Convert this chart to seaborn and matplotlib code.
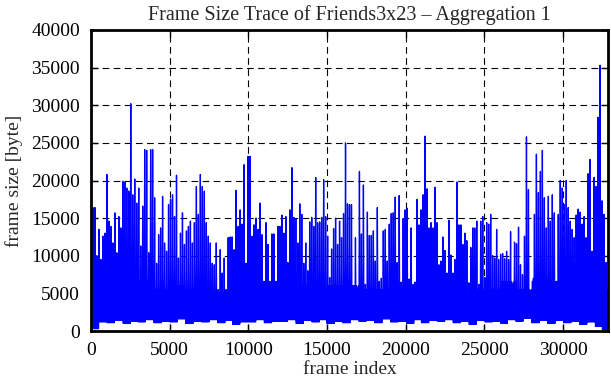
import numpy as np
import pandas as pd
import matplotlib
matplotlib.use("Agg")
import matplotlib.pyplot as plt
import seaborn as sns

# ---- data (frame sizes in bytes) ----
N_FRAMES = 32850

# per-column peak frame sizes, frames ~0 .. 8200
peak_a = [15500, 16400, 16400, 10000, 13500, 9500, 12600, 13000, 20800, 14600,
          13900, 11700, 15700, 10400, 15200, 13700, 19900, 19800, 19000, 18600,
          30200, 18100, 20200, 17000, 19000, 11300, 16600, 24100, 24000, 10400,
          24100, 24100, 17700, 9000, 12800, 13700, 17900, 11700, 10600, 16800,
          17500, 18100, 15200, 20700, 9700, 13000, 15700, 11500, 13300, 13900,
          14600, 11700, 14400, 19200, 15500, 20800, 19200, 18600, 14400, 12600,
          11700, 9000, 8800, 11700, 5500]
# frames ~8200 .. 16400
peak_b = [10800, 7700, 9700, 5500, 12400, 12500, 12500, 10800, 18700, 13900,
          16100, 14200, 22100, 9000, 23200, 23200, 12600, 14100, 15000, 13500,
          17000, 12800, 6600, 14400, 11500, 6600, 12900, 12900, 6600, 13900,
          13900, 15400, 13000, 15200, 9100, 16100, 21700, 15100, 14900, 11700,
          16900, 15500, 9000, 11700, 8000, 14500, 15100, 13900, 20400, 14400,
          14500, 15100, 20100, 15200, 12600, 7100, 10900, 13600, 15000, 11500,
          14600, 12400, 15600, 25000, 16900]
# frames ~16400 .. 24600
peak_c = [16800, 16800, 6000, 12400, 5700, 21200, 12900, 19400, 6200, 15800,
          12700, 12700, 13300, 9300, 16400, 6600, 7000, 13300, 13500, 9300,
          14200, 15600, 15700, 17800, 9100, 18000, 6500, 14900, 16100, 16300,
          6900, 13700, 6200, 6500, 17500, 14100, 16100, 18100, 25900, 18900,
          13700, 14400, 13700, 19100, 14400, 8800, 9300, 12500, 10700, 7700,
          14700, 10100, 7700, 9500, 19800, 14100, 14100, 11500, 13000, 12000,
          6400, 11100, 13700, 13700, 14600]
# frames ~24600 .. 32850
peak_d = [6200, 14600, 15200, 7100, 14400, 14200, 15500, 10000, 9700, 13500,
          9500, 10200, 10300, 9600, 10600, 9500, 13200, 6200, 11800, 11600,
          13800, 8800, 7500, 12600, 25800, 18800, 5300, 6600, 15500, 23500,
          18400, 21200, 24000, 17700, 13700, 17900, 14600, 18100, 15700, 6600,
          15500, 20000, 19000, 16800, 20000, 16400, 14600, 13500, 12400, 15400,
          16200, 15800, 14200, 15200, 12400, 20900, 22800, 10600, 20400, 19200,
          28400, 35300, 17300, 15500, 9100]

# top of the dense band, one value per 1000 frames
band = [6500, 6000, 7000, 6500, 5500, 6000, 5500, 5000,
        5000, 6000, 5500, 5500, 5500, 6000, 5500, 6000,
        6000, 5500, 5500, 5500, 6000, 5500, 5000, 5000,
        5500, 5500, 6500, 5500, 7000, 6500, 6500, 7000, 5500]

# lower envelope, one value per 500 frames
trough = [300, 1200, 1100, 1400, 1000, 1300, 1200, 1500, 1100, 1300,
          1200, 1600, 1000, 1300, 1200, 1500, 1100, 1400, 900, 1200,
          1200, 1500, 1100, 1300, 1300, 1500, 1000, 1400, 1200, 1500,
          1000, 1300, 1100, 1500, 1300, 1400, 1100, 1600, 1200, 1300,
          1000, 1500, 1100, 1400, 1300, 1500, 1100, 1300, 900, 1400,
          1200, 1300, 1000, 1500, 1300, 1700, 1100, 1400, 1000, 1400,
          1100, 1300, 900, 1200, 600, 200]

title = "Frame Size Trace of Friends3x23 \u2013 Aggregation 1"
x_label = "frame index"
y_label = "frame size [byte]"
x_ticks = [0, 5000, 10000, 15000, 20000, 25000, 30000]
y_ticks = [0, 5000, 10000, 15000, 20000, 25000, 30000, 35000, 40000]

# ---- build the trace: peak / trough / band / trough per column ----
peaks = peak_a + peak_b + peak_c + peak_d
step = N_FRAMES / len(peaks)


def low(f):
    return trough[min(int(f // 500), len(trough) - 1)]


def mid(f):
    return band[min(int(f // 1000), len(band) - 1)]


frames, sizes = [], []
for i, p in enumerate(peaks):
    f0 = i * step
    fa, fb, fc = f0 + step / 4, f0 + step / 2, f0 + 3 * step / 4
    frames += [f0, fa, fb, fc]
    sizes += [p, low(fa), mid(fb), low(fc)]
df = pd.DataFrame({"frame": frames, "size": sizes})

# ---- style ----
sns.set_style("ticks")
plt.rcParams["font.family"] = ["Liberation Serif", "DejaVu Serif"]

fig = plt.figure(figsize=(6.11, 3.80), dpi=100)
ax = fig.add_axes([91 / 611, 1 - 331 / 380, (608 - 91) / 611, (331 - 30) / 380])

sns.lineplot(data=df, x="frame", y="size", ax=ax, color="#0000ff",
             linewidth=0.95, estimator=None, sort=False, zorder=2)

ax.set_xlim(0, N_FRAMES)
ax.set_ylim(0, 40000)
ax.set_xticks(x_ticks)
ax.set_yticks(y_ticks)
ax.set_xticklabels([str(t) for t in x_ticks])
ax.set_yticklabels([str(t) for t in y_ticks])

ax.set_axisbelow(True)
ax.grid(True, color="black", linestyle=(0, (6, 4)), linewidth=0.8)

for s in ax.spines.values():
    s.set_visible(True)
    s.set_linewidth(2.0)
    s.set_color("black")
    s.set_zorder(5)

ax.tick_params(direction="in", length=5, width=1, top=True, right=True,
               labelsize=14, colors="black", pad=8)

ax.set_xlabel(x_label, fontsize=14, labelpad=1)
ax.set_ylabel(y_label, fontsize=14, labelpad=6)
ax.set_title(title, fontsize=14.5, pad=7)

fig.savefig("out.png", dpi=100, facecolor="white")
